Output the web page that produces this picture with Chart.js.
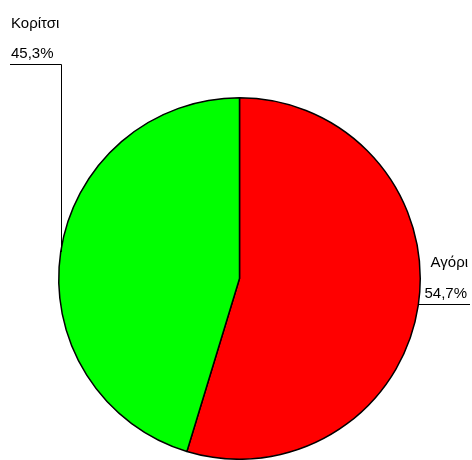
<!DOCTYPE html>
<html>
<head>
<meta charset="utf-8">
<script src="https://cdn.jsdelivr.net/npm/chart.js@4/dist/chart.umd.min.js"></script>
<style>
  html, body { margin: 0; padding: 0; background: #fff; }
  canvas { display: block; }
</style>
</head>
<body>
<canvas id="pie" width="472" height="460"></canvas>
<script>
// Data
const labels = ["Αγόρι", "Κορίτσι"];
const shares = [54.7, 45.3];
const sliceColors = ["#FF0000", "#00FF00"];

// Labels with a leader line from the middle of each slice edge
const leaderLabels = {
  id: "leaderLabels",
  afterDraw(chart) {
    let ctx = chart.ctx;
    let meta = chart.getDatasetMeta(0);
    ctx.save();
    ctx.strokeStyle = "#000";
    ctx.lineWidth = 1;
    ctx.fillStyle = "#000";
    ctx.font = "15px 'Liberation Sans', Arial, sans-serif";
    ctx.textBaseline = "alphabetic";

    meta.data.forEach(function(arc, i) {
      let p = arc.getProps(["x", "y", "startAngle", "endAngle", "outerRadius"], true);
      let mid = (p.startAngle + p.endAngle) / 2;
      let ex = p.x + Math.cos(mid) * p.outerRadius;
      let ey = p.y + Math.sin(mid) * p.outerRadius;
      let pct = shares[i].toFixed(1).replace(".", ",") + "%";

      ctx.beginPath();
      if (Math.cos(mid) >= 0) { // right side: straight out to the edge of the page
        let lineY = Math.round(ey) - 0.5;
        let endX = chart.width - 2;
        ctx.moveTo(ex, lineY);
        ctx.lineTo(endX, lineY);
        ctx.stroke();
        ctx.textAlign = "right";
        ctx.fillText(pct, endX - 3, lineY - 7);
        ctx.fillText(labels[i], endX - 2, lineY - 38);
      } else { // left side: up, then across to the left
        let vx = Math.round(ex) + 0.5;
        let lineY = 64.5;
        ctx.moveTo(vx, ey);
        ctx.lineTo(vx, lineY);
        ctx.lineTo(10, lineY);
        ctx.stroke();
        ctx.textAlign = "left";
        ctx.fillText(pct, 11, lineY - 7);
        ctx.fillText(labels[i], 11, lineY - 37);
      }
    });
    ctx.restore();
  }
};

new Chart(document.getElementById("pie"), {
  type: "pie",
  data: {
    labels: labels,
    datasets: [{
      data: shares,
      backgroundColor: sliceColors,
      borderColor: "#000",
      borderWidth: 1.5
    }]
  },
  options: {
    responsive: false,
    animation: false,
    layout: { padding: { left: 57, right: 50, top: 97, bottom: 0 } },
    plugins: {
      legend: { display: false },
      tooltip: { enabled: false }
    }
  },
  plugins: [leaderLabels]
});
</script>
</body>
</html>
